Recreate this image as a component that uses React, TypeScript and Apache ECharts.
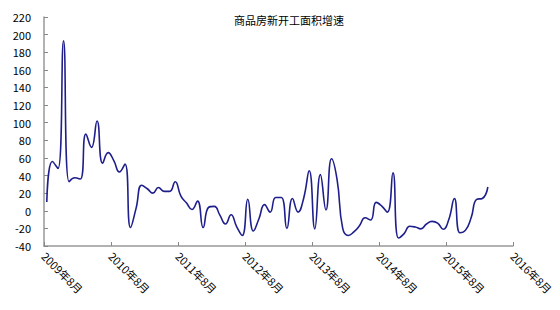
import React, { useEffect, useRef } from "react";
import * as echarts from "echarts";

// Monthly growth (%) of newly started commercial housing floor area, 2009-08 .. 2016-03
const startYear = 2009;
const startMonth = 8;
const growth: number[] = [
  10, 56, 48, 193, 33, 37.5, 36, 87, 72, 102,
  54, 66, 57, 44, 53, -19, 3, 29, 25, 20,
  26.5, 22, 22, 33, 17, 9, 1.5, 11, -19, 4,
  5, -5, -15, -4.5, -18, -28, 13, -23, -9, 7,
  -1.5, 15, 15, -20, 14, -1.5, 14, 45.5, -20.5, 41,
  1, 59, 35, -20, -28, -24, -17, -8, -10.5, 9.5,
  5.3, -1.5, 43, -31, -26, -17.5, -18.5, -20.5, -15, -12,
  -14, -21, -10, 14, -25, -22, -8, 13, 14, 27,
];
const yTicks = { min: -40, max: 220, interval: 20 };
const xSpanMonths = 84; // 2009年8月 .. 2016年8月
const titleText = "商品房新开工面积增速";

export default function App() {
  const ref = useRef<HTMLDivElement>(null);
  useEffect(() => {
    document.body.style.margin = "0";
    if (!ref.current) return;
    const chart = echarts.init(ref.current, undefined, { renderer: "svg" });
    const font = "'Noto Sans CJK SC', 'Noto Sans', sans-serif";
    chart.setOption({
      animation: false,
      title: {
        text: titleText,
        left: 284,
        top: 9,
        textAlign: "center",
        textStyle: { fontSize: 11, fontWeight: "normal", color: "#000", fontFamily: font },
      },
      grid: { left: 44, right: 47, top: 17, bottom: 64 },
      xAxis: {
        type: "value",
        min: 0,
        max: xSpanMonths,
        interval: 12,
        axisLine: { onZero: false, lineStyle: { color: "#999", width: 1.5 } },
        axisTick: { show: true, inside: true, length: 4, lineStyle: { color: "#888" } },
        splitLine: { show: false },
        axisLabel: {
          rotate: -45,
          fontSize: 11,
          color: "#000",
          fontFamily: font,
          margin: 8,
          formatter: (v: number) => {
            const total = startMonth - 1 + v;
            const y = startYear + Math.floor(total / 12);
            const m = (total % 12) + 1;
            return `${y}年${m}月`;
          },
        },
      },
      yAxis: {
        type: "value",
        min: yTicks.min,
        max: yTicks.max,
        interval: yTicks.interval,
        axisLine: { show: true, onZero: false, lineStyle: { color: "#999", width: 1.5 } },
        axisTick: { show: true, inside: true, length: 4, lineStyle: { color: "#888" } },
        splitLine: { show: false },
        axisLabel: { fontSize: 11, color: "#000", fontFamily: font, margin: 13 },
      },
      series: [
        {
          type: "line",
          data: growth.map((v, i) => [i + 0.5, v]),
          smooth: 0.5,
          showSymbol: false,
          symbol: "none",
          lineStyle: { color: "#1F1F8C", width: 1.6 },
        },
      ],
    });
    return () => chart.dispose();
  }, []);
  return <div ref={ref} style={{ width: 560, height: 310 }} />;
}
